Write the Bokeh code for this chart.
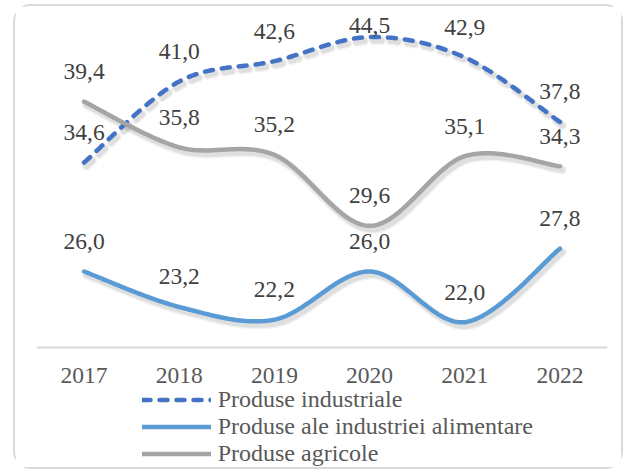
import numpy as np
from bokeh.plotting import figure
from bokeh.models import Range1d, FixedTicker, Legend, LegendItem, ColumnDataSource
from bokeh.core.properties import value
from bokeh.embed import file_html
from bokeh.resources import INLINE

years = ["2017", "2018", "2019", "2020", "2021", "2022"]
industriale = [34.6, 41.0, 42.6, 44.5, 42.9, 37.8]
alimentare = [26.0, 23.2, 22.2, 26.0, 22.0, 27.8]
agricole = [39.4, 35.8, 35.2, 29.6, 35.1, 34.3]
names = ["Produse industriale", "Produse ale industriei alimentare", "Produse agricole"]
colors = ["#4472C4", "#5B9BD5", "#A5A5A5"]

FONT = "Liberation Serif"
W, H = 610, 465
ML, MR, MT, MB = 21, 18, 9, 0
AXIS_V = 20.0          # value where the category axis sits
BELOW_AXIS = 124       # pixels between axis line and frame bottom
PPU = 12.67
FH = H - MT - MB
FW = W - ML - MR
Y0 = AXIS_V - BELOW_AXIS / PPU
YTOP = Y0 + FH / PPU
PPX = FW / 6.0


def smooth(xs, ys, n=40):
    pts = np.column_stack([xs, ys]).astype(float)
    out = []
    m = len(pts)
    for i in range(m - 1):
        p0 = pts[i - 1] if i > 0 else pts[i]
        p1 = pts[i]
        p2 = pts[i + 1]
        p3 = pts[i + 2] if i + 2 < m else pts[i + 1]
        c1 = p1 + (p2 - p0) / 6.0
        c2 = p2 - (p3 - p1) / 6.0
        t = np.linspace(0, 1, n)[:, None]
        if i > 0:
            t = t[1:]
        seg = (1 - t) ** 3 * p1 + 3 * (1 - t) ** 2 * t * c1 + 3 * (1 - t) * t ** 2 * c2 + t ** 3 * p2
        out.append(seg)
    arr = np.vstack(out)
    return arr[:, 0], arr[:, 1]


p = figure(width=W, height=H, x_range=Range1d(-0.5, 5.5), y_range=Range1d(Y0, YTOP),
           y_axis_type=None, output_backend="svg", toolbar_location=None,
           min_border_left=ML, min_border_right=MR, min_border_top=MT, min_border_bottom=MB)
p.xgrid.visible = False
p.ygrid.visible = False
p.outline_line_color = None
p.background_fill_color = "white"
p.border_fill_color = "white"
p.styles = {"border": "2px solid #D9D9D9", "border-radius": "18px",
            "margin-left": "13px", "margin-top": "4px"}

xs = list(range(len(years)))
series = [industriale, alimentare, agricole]
dashes = ["8 9", "solid", "solid"]

# soft shadows under the lines
for vals, dash in zip(series, dashes):
    sx, sy = smooth(xs, vals)
    for w, a in [(9, 0.05), (6, 0.08)]:
        p.line(sx + 2.5 / PPX, sy - 3.5 / PPU, line_color="black", line_alpha=a, line_width=w,
               line_dash=dash, line_cap="round", line_join="round")

renderers = []
for vals, col, dash in zip(series, colors, dashes):
    sx, sy = smooth(xs, vals)
    r = p.line(sx, sy, line_color=col, line_width=4.5, line_dash=dash,
               line_cap="round", line_join="round")
    renderers.append(r)

# data labels (above points, kept inside the plot area)
lx, ly, lt, lo = [], [], [], []
for vals in series:
    for x, v in zip(xs, vals):
        dist_top = (YTOP - v) * PPU
        off = min(30.0, dist_top - 10.0)
        lx.append(x)
        ly.append(v)
        lt.append(f"{v:.1f}".replace(".", ","))
        lo.append(-off)
src = ColumnDataSource(dict(x=lx, y=ly, t=lt, o=lo))
p.text(x="x", y="y", text="t", y_offset="o", source=src, text_align="center",
       text_baseline="middle", text_font=value(FONT), text_font_size="23.5px", text_color="#404040")

ax = p.xaxis[0]
ax.fixed_location = AXIS_V
ax.ticker = FixedTicker(ticks=xs)
ax.major_label_overrides = {i: y for i, y in enumerate(years)}
ax.major_tick_line_color = None
ax.minor_tick_line_color = None
ax.axis_line_color = "#D9D9D9"
ax.axis_line_width = 2
ax.major_label_text_font = FONT
ax.major_label_text_font_size = "23.5px"
ax.major_label_text_color = "#595959"
ax.major_label_standoff = 14

legend = Legend(items=[LegendItem(label=n, renderers=[r]) for n, r in zip(names, renderers)],
                location=(105.7, 4), orientation="vertical",
                glyph_width=69, glyph_height=23, label_height=23, spacing=-2,
                padding=0, margin=0, label_standoff=7,
                label_text_font=FONT, label_text_font_size="24px", label_text_color="#595959",
                border_line_color=None, background_fill_alpha=0)
p.add_layout(legend, "center")

open("out.html", "w").write(file_html(p, INLINE))
